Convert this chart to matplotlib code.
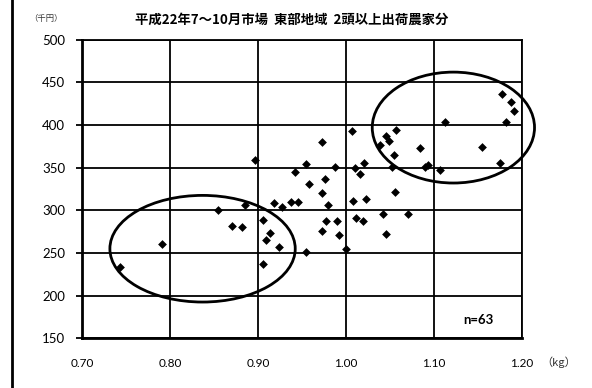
import matplotlib.pyplot as plt
from matplotlib.patches import Ellipse
from matplotlib.lines import Line2D

# carcass weight (kg) vs price (thousand yen)
weight = [0.743, 0.791, 0.854, 0.870, 0.882, 0.885, 0.897, 0.906, 0.906, 0.909,
          0.914, 0.918, 0.924, 0.927, 0.937, 0.945, 0.942, 0.954, 0.955, 0.958,
          0.973, 0.973, 0.973, 0.976, 0.977, 0.980, 0.987, 0.990, 0.992, 1.000,
          1.007, 1.008, 1.010, 1.011, 1.016, 1.019, 1.021, 1.023, 1.039, 1.042,
          1.045, 1.046, 1.049, 1.052, 1.054, 1.056, 1.057, 1.071, 1.084, 1.090,
          1.093, 1.107, 1.113, 1.155, 1.175, 1.177, 1.182, 1.188, 1.191]
price = [233, 261, 300, 282, 280, 306, 359, 289, 237, 265,
         274, 308, 257, 304, 310, 310, 345, 354, 251, 331,
         380, 320, 276, 337, 287, 306, 351, 287, 271, 255,
         393, 311, 350, 291, 343, 288, 355, 313, 376, 296,
         272, 387, 381, 351, 365, 322, 394, 296, 373, 351,
         353, 347, 403, 374, 356, 436, 404, 427, 417]

xticks = [0.70, 0.80, 0.90, 1.00, 1.10, 1.20]
yticks = [150, 200, 250, 300, 350, 400, 450, 500]

# circled groups: (center x, center y, width, height)
groups = [(0.837, 255, 0.2106, 125), (1.122, 397, 0.1844, 130)]

title = "平成22年7～10月市場  東部地域  2頭以上出荷農家分"

plt.rcParams['font.family'] = ['Lato', 'Noto Sans CJK JP', 'DejaVu Sans']

fig = plt.figure(figsize=(5.92, 3.88), dpi=100)
ax = fig.add_axes([0.1385, 0.1281, 0.7433, 0.7696])

ax.scatter(weight, price, marker='D', s=20, color='black', zorder=3, linewidths=0)

for cx, cy, w, h in groups:
    e = Ellipse((cx, cy), w, h, fill=False, edgecolor='black', linewidth=2,
                clip_on=False, zorder=4)
    ax.add_patch(e)

ax.set_xlim(0.70, 1.20)
ax.set_ylim(150, 500)
ax.set_xticks(xticks)
ax.set_yticks(yticks)
ax.set_xticklabels([f"{v:.2f}" for v in xticks], fontsize=8.5)
ax.set_yticklabels([str(v) for v in yticks], fontsize=9.5)
ax.grid(True, color='black', linewidth=1.3)
ax.set_axisbelow(True)
ax.tick_params(axis='y', length=4, width=1.3, pad=8)
ax.tick_params(axis='x', length=0, pad=14)
for s in ax.spines.values():
    s.set_linewidth(1.3)
ax.spines['bottom'].set_linewidth(2)
ax.spines['left'].set_linewidth(2)

ax.text(1.15, 171, "n=63", fontsize=9.5, fontweight='bold', ha='center', va='center')

fig.text(0.4924, 0.948, title, fontsize=9.6, fontweight='bold', ha='center', va='center',
         family=['Noto Sans CJK JP', 'DejaVu Sans'])
fig.text(0.078, 0.953, "（千円）", fontsize=6, ha='center', va='center', color='#333333',
         family=['Noto Sans CJK JP', 'DejaVu Sans'])
fig.text(0.943, 0.067, "（kg）", fontsize=8, ha='center', va='center', color='#333333',
         family=['Noto Sans CJK JP', 'DejaVu Sans'])

# left border line of the original sheet
fig.add_artist(Line2D([0.02, 0.02], [0, 1], color='black', linewidth=2,
                      transform=fig.transFigure))

fig.savefig("out.png", dpi=100)
